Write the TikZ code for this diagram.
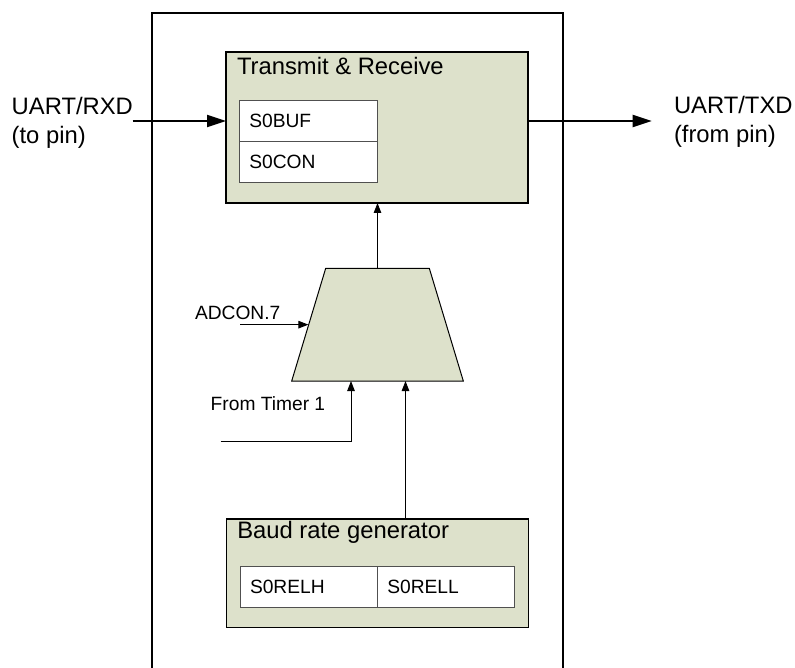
\documentclass[tikz,border=0pt]{standalone}
\usepackage{fontspec}
\setmainfont{Liberation Sans}
\usetikzlibrary{arrows.meta,calc}
\definecolor{boxgreen}{RGB}{221,225,203}
\definecolor{cellline}{RGB}{80,80,80}
\begin{document}
\begin{tikzpicture}[x=1pt,y=-1pt,
  bigtext/.style={font=\fontsize{23.8}{29}\selectfont, inner sep=0pt, outer sep=0pt},
  smalltext/.style={font=\fontsize{19.2}{23}\selectfont, inner sep=0pt, outer sep=0pt},
  greenbox/.style={draw=black, line width=1.2pt, fill=boxgreen, inner sep=0pt, outer sep=0pt},
  cell/.style={draw=cellline, line width=1pt, fill=white, font=\fontsize{19.2}{23}\selectfont,
    inner xsep=10pt, inner ysep=0pt, align=left, minimum height=41pt, outer sep=0pt},
  muxshape/.style={draw=black, line width=1pt, fill=boxgreen, line join=miter},
  frame/.style={line width=1.5pt, draw=black},
  thinarrow/.style={line width=1pt, -{Triangle[length=10pt,width=7.5pt]}},
  thickarrow/.style={line width=2pt, -{Triangle[length=19pt,width=12pt]}},
]
\useasboundingbox (0,0) rectangle (795,668);
% outer frame
\draw[frame] (152,672) -- (152,13) -- (563,13) -- (563,672);

% transmit & receive block
\node[greenbox, minimum width=302pt, minimum height=151pt] (tr) at (377,127.5) {};
\node[bigtext, anchor=base west] (trt) at (237,75) {Transmit \& Receive};
\node[cell, text width=118.4pt] (buf) at (308.5,120.85) {S0BUF};
\node[cell, text width=118.4pt] (con) at (308.5,162.2) {S0CON};

% multiplexer
\coordinate (mtl) at (325.7,268.3);
\coordinate (mtr) at (429.3,268.3);
\coordinate (mbr) at (463.3,381);
\coordinate (mbl) at (291.7,381);
\draw[muxshape] (mtl) -- (mtr) -- (mbr) -- (mbl) -- cycle;
\coordinate (mtop) at (377.5,268.3);
\coordinate (mleft) at (308.4,324.65);

% baud rate generator
\node[greenbox, minimum width=301.6pt, minimum height=108.7pt] (baud) at (377.5,573.35) {};
\node[bigtext, anchor=base west] (baudt) at (237.3,538.3) {Baud rate generator};
\node[cell, text width=117.3pt] (relh) at (308.65,587.2) {S0RELH};
\node[cell, text width=117pt] (rell) at (445.8,587.2) {S0RELL};

% external labels (anchor on the last line's baseline)
\node[bigtext, anchor=base west, align=left] (rxl) at (11.7,143.3) {UART/RXD\\(to pin)};
\node[bigtext, anchor=base west, align=left] (txl) at (674,142.3) {UART/TXD\\(from pin)};
\node[smalltext, anchor=base west] (adl) at (195,319.5) {ADCON.7};
\node[smalltext, anchor=base west] (tml) at (210.7,410) {From Timer 1};

% connectors
\coordinate (rxd) at (132.7,121);
\coordinate (txd) at (651.7,121);
\draw[thickarrow] (rxd) -- (rxd -| tr.west);
\draw[thickarrow] (tr.east |- txd) -- (txd);
\draw[thinarrow] (mtop) -- (mtop |- tr.south);
\coordinate (adc) at (240,324.65);
\draw[thinarrow] (adc) -- (mleft);
\coordinate (tim) at (220.7,441);
\coordinate (tin) at (351,381);
\draw[thinarrow] (tim) -| (tin);
\coordinate (bin) at (405.5,381);
\draw[thinarrow] (bin |- baud.north) -- (bin);
\end{tikzpicture}
\end{document}
